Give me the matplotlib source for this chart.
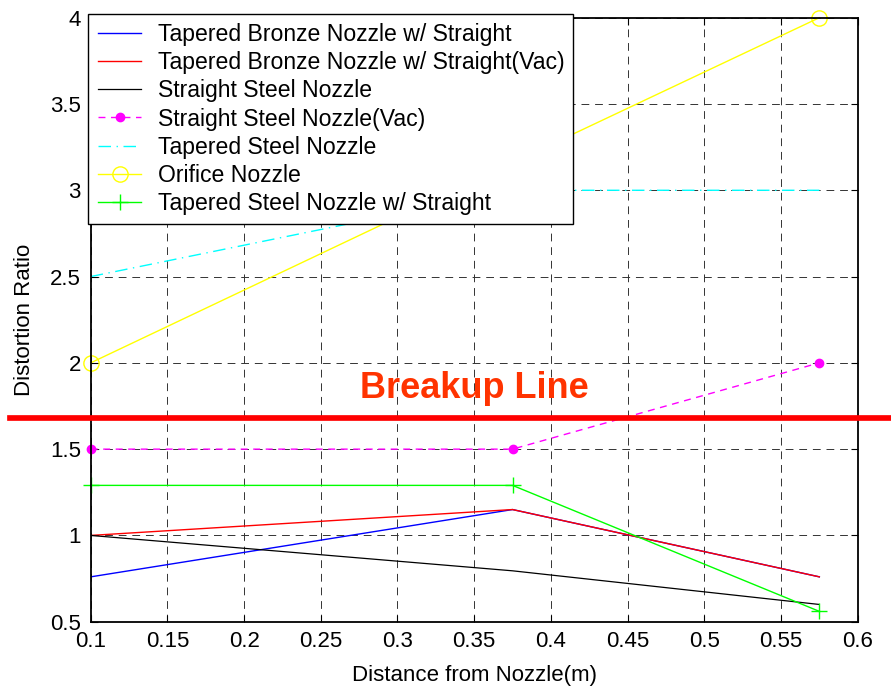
import matplotlib
matplotlib.use("Agg")
from matplotlib import pyplot as plt
from matplotlib import transforms
import numpy as np

plt.rcParams['font.family'] = ['Liberation Sans', 'DejaVu Sans']

# distance from nozzle (m)
distance = [0.1, 0.375, 0.575]

bronze_straight = [0.76, 1.15, 0.76]
bronze_straight_vac = [1.0, 1.15, 0.76]
straight_steel = [1.0, 0.795, 0.6]
straight_steel_vac = [1.5, 1.5, 2.0]
tapered_steel = [2.5, 3.0, 3.0]
orifice = [2.0, 3.16, 4.0]
tapered_steel_straight = [1.29, 1.29, 0.56]

breakup = 1.683

xticks = np.arange(0.1, 0.6001, 0.05)
yticks = np.arange(0.5, 4.001, 0.5)

fig = plt.figure(figsize=(8.91, 6.86), dpi=100)
ax = fig.add_axes([0.1018, 0.0937, 0.8608, 0.8805])

ax.plot(distance, bronze_straight, color=(0, 0, 1), lw=1,
        label='Tapered Bronze Nozzle w/ Straight')
ax.plot(distance, bronze_straight_vac, color=(1, 0, 0), lw=1,
        label='Tapered Bronze Nozzle w/ Straight(Vac)')
ax.plot(distance, straight_steel, color='k', lw=0.9,
        label='Straight Steel Nozzle')
ax.plot(distance, straight_steel_vac, color=(1, 0, 1), lw=1, ls=(0, (5, 4)),
        marker='o', ms=6, clip_on=False, label='Straight Steel Nozzle(Vac)')
ax.plot(distance, tapered_steel, color=(0, 1, 1), lw=1, ls=(0, (9, 4, 1, 4)),
        label='Tapered Steel Nozzle')
ax.plot(distance, orifice, color=(1, 1, 0), lw=1, marker='o', ms=11,
        mfc='none', clip_on=False, label='Orifice Nozzle')
ax.plot(distance, tapered_steel_straight, color=(0, 1, 0), lw=1, marker='+',
        ms=11, mew=1, clip_on=False, label='Tapered Steel Nozzle w/ Straight')

# breakup line runs across the whole figure width
trans = transforms.blended_transform_factory(fig.transFigure, ax.transData)
ax.plot([0.011, 1.0], [breakup, breakup], color=(1, 0, 0), lw=4.1,
        transform=trans, clip_on=False, zorder=5)
ax.text(0.35, 1.85, 'Breakup Line', color='#ff3300', fontsize=26,
        fontweight='bold', ha='center', va='center')

ax.set_xlim(0.1, 0.6)
ax.set_ylim(0.5, 4)
ax.set_xticks(xticks)
ax.set_xticklabels(['0.1', '0.15', '0.2', '0.25', '0.3', '0.35', '0.4',
                    '0.45', '0.5', '0.55', '0.6'])
ax.set_yticks(yticks)
ax.set_yticklabels(['0.5', '1', '1.5', '2', '2.5', '3', '3.5', '4'])
ax.tick_params(direction='in', top=True, right=True, length=5,
               labelsize=16, width=0.8, pad=7)
ax.grid(True, color='0.2', ls=(0, (8, 6)), lw=0.7)
for s in ax.spines.values():
    s.set_linewidth(1.3)

ax.set_xlabel('Distance from Nozzle(m)', fontsize=16, labelpad=9)
ax.set_ylabel('Distortion Ratio', fontsize=16, labelpad=11)

leg = ax.legend(loc='upper left', bbox_to_anchor=(-0.003, 1.006),
                borderaxespad=0, fontsize=16.6, fancybox=False, framealpha=1,
                edgecolor='k', handlelength=1.9, handletextpad=0.7,
                labelspacing=0.22, borderpad=0.4)
leg.get_frame().set_linewidth(1.0)
leg.set_zorder(10)

fig.savefig('out.png', dpi=100)
